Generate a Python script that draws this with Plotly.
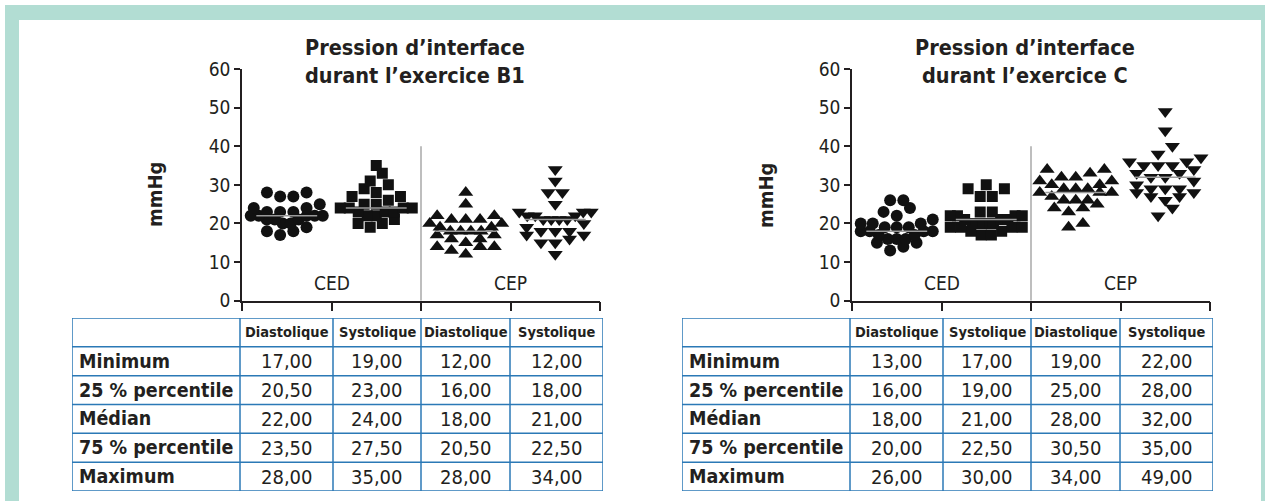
import plotly.graph_objects as go

W, H = 1265, 501

# ---------------- data ----------------
categories = ["Diastolique", "Systolique", "Diastolique", "Systolique"]
sites = ["CED", "CEP"]
y_tick_values = [0, 10, 20, 30, 40, 50, 60]
row_labels = ["Minimum", "25 % percentile", "Médian", "75 % percentile", "Maximum"]
titles = ["Pression d’interface<br>durant l’exercice B1",
          "Pression d’interface<br>durant l’exercice C"]
y_title = "mmHg"

# exercice B1 (individual values, mmHg)
b1_ced_dia = [17, 18, 18, 19, 20, 20, 21, 21, 21, 22, 22, 22, 22, 22, 23, 23, 23, 24, 24, 25, 27, 27, 28, 28]
b1_ced_sys = [19, 20, 20, 21, 22, 22, 23, 23, 23, 24, 24, 24, 24, 25, 25, 26, 27, 27, 28, 29, 30, 31, 33, 35]
b1_cep_dia = [12, 13, 14, 14, 14, 15, 16, 16, 17, 17, 18, 18, 18, 18, 19, 19, 20, 20, 21, 21, 21, 22, 22, 25, 28]
b1_cep_sys = [12, 15, 15, 16, 17, 17, 18, 18, 18, 19, 20, 21, 21, 21, 21, 22, 22, 22, 23, 23, 23, 25, 28, 28, 31, 34]

# exercice C (individual values, mmHg)
c_ced_dia = [13, 14, 15, 15, 16, 16, 16, 17, 17, 18, 18, 18, 18, 19, 19, 19, 20, 20, 20, 21, 22, 23, 24, 26, 26]
c_ced_sys = [17, 17, 18, 18, 19, 19, 19, 19, 20, 20, 20, 20, 21, 21, 21, 22, 22, 22, 22, 23, 23, 27, 27, 29, 29, 30]
c_cep_dia = [19, 20, 23, 24, 24, 25, 26, 26, 26, 27, 28, 28, 28, 29, 29, 29, 30, 30, 31, 31, 32, 32, 33, 34, 34]
c_cep_sys = [22, 24, 26, 27, 27, 28, 28, 29, 29, 29, 30, 31, 32, 32, 33, 33, 34, 35, 35, 35, 36, 36, 37, 38, 40, 44, 49]

# summary tables
b1_min = [17, 19, 12, 12]
b1_q1 = [20.5, 23, 16, 18]
b1_med = [22, 24, 18, 21]
b1_q3 = [23.5, 27.5, 20.5, 22.5]
b1_max = [28, 35, 28, 34]

c_min = [13, 17, 19, 22]
c_q1 = [16, 19, 25, 28]
c_med = [18, 21, 28, 32]
c_q3 = [20, 22.5, 30.5, 35]
c_max = [26, 30, 34, 49]

# ---------------- styles ----------------
TXT = "#231f20"
BLUE = "#2b79b6"
TEAL = "#b2ddd3"
GREY = "#9a9a9a"
COND = "DejaVu Sans Condensed, Liberation Sans Narrow, sans-serif"
SYMBOLS = ["circle", "square", "triangle-up", "triangle-down"]
SIZES = [12, 11, 13, 13]

PPU_X = 358.0 / 4.0    # px per category


def swarm_offsets(values, size, bin_h=2.5, max_width=72.0):
    """GraphPad-like scatter: values binned in rows, each row spread symmetrically,
    lowest values of a row near the centre."""
    order = sorted(range(len(values)), key=lambda i: values[i])
    bins = []
    for i in order:
        if bins and values[i] - values[bins[-1][0]] < bin_h:
            bins[-1].append(i)
        else:
            bins.append([i])
    offsets = [0.0] * len(values)
    for b in bins:
        m = len(b)
        sp = size * 1.1 if m < 2 else min(size * 1.1, max_width / (m - 1))
        slots = [(j - (m - 1) / 2.0) * sp for j in range(m)]
        slots.sort(key=lambda s: (abs(s), s))
        for idx, s in zip(b, slots):
            offsets[idx] = s / PPU_X
    return offsets


fig = go.Figure()

charts = [
    dict(series=[b1_ced_dia, b1_ced_sys, b1_cep_dia, b1_cep_sys],
         stats=[b1_min, b1_q1, b1_med, b1_q3, b1_max], xa="x", ya="y", xt="x3", yt="y3"),
    dict(series=[c_ced_dia, c_ced_sys, c_cep_dia, c_cep_sys],
         stats=[c_min, c_q1, c_med, c_q3, c_max], xa="x2", ya="y2", xt="x4", yt="y4"),
]

for ch in charts:
    for gi, vals in enumerate(ch["series"]):
        offs = swarm_offsets(vals, SIZES[gi])
        fig.add_trace(go.Scatter(
            x=[gi + o for o in offs], y=vals, mode="markers",
            marker=dict(symbol=SYMBOLS[gi], size=SIZES[gi], color="#111111", line=dict(width=0)),
            xaxis=ch["xa"], yaxis=ch["ya"], showlegend=False, hoverinfo="y"))
    # median lines
    mx, my = [], []
    for gi, m in enumerate(ch["stats"][2]):
        mx += [gi - 0.34, gi + 0.34, None]
        my += [m, m, None]
    fig.add_trace(go.Scatter(x=mx, y=my, mode="lines", line=dict(color=GREY, width=1.5),
                             xaxis=ch["xa"], yaxis=ch["ya"], showlegend=False, hoverinfo="skip"))

shapes = []
annotations = []

# chart geometry (paper)
y_dom = [(H - 300.7) / H, (H - 69) / H]
x_doms = [[242 / W, 600 / W], [852 / W, 1210 / W]]
title_x = [415, 1025]
ytitle_x = [155, 766]
table_doms = [[72 / W, 603 / W], [682 / W, 1213 / W]]
tbl_y = [(H - 491) / H, (H - 318) / H]
col_edges = [0, 168, 261, 349, 438, 531]

layout_axes = {}
for k, ch in enumerate(charts):
    xa_name = "xaxis" if k == 0 else "xaxis2"
    ya_name = "yaxis" if k == 0 else "yaxis2"
    layout_axes[xa_name] = dict(
        domain=x_doms[k], range=[-0.5, 3.5], tickvals=[-0.5, 0.5, 1.5, 2.5, 3.5],
        ticktext=[""] * 5, ticks="outside", ticklen=9, tickwidth=1.5, tickcolor=TXT,
        showline=True, linecolor=TXT, linewidth=1.5, showgrid=False, zeroline=False,
        anchor=ch["ya"], fixedrange=True, automargin=False)
    layout_axes[ya_name] = dict(
        domain=y_dom, range=[0, 60], tickvals=y_tick_values, ticks="outside", ticklen=6,
        tickwidth=1.5, tickcolor=TXT, showline=True, linecolor=TXT, linewidth=1.5,
        showgrid=False, zeroline=False, anchor=ch["xa"], automargin=False,
        tickfont=dict(family=COND, size=19, color=TXT), fixedrange=True)
    # table axes
    xt_name = "xaxis3" if k == 0 else "xaxis4"
    yt_name = "yaxis3" if k == 0 else "yaxis4"
    layout_axes[xt_name] = dict(domain=table_doms[k], range=[0, 531], visible=False,
                                anchor=ch["yt"], fixedrange=True, automargin=False)
    layout_axes[yt_name] = dict(domain=tbl_y, range=[6, 0], visible=False,
                                anchor=ch["xt"], fixedrange=True, automargin=False)

    # separator between CED and CEP
    shapes.append(dict(type="line", xref=ch["xa"], yref=ch["ya"], x0=1.5, x1=1.5, y0=0, y1=40,
                       line=dict(color="#a8a8a8", width=1.5)))
    # site labels
    for si, s in enumerate(sites):
        annotations.append(dict(text=s, xref=ch["xa"], yref=ch["ya"], x=0.5 + 2 * si, y=4.6,
                                showarrow=False, font=dict(family=COND, size=19, color=TXT)))
    # title
    annotations.append(dict(text="<b>" + titles[k] + "</b>", xref="paper", yref="paper",
                            x=title_x[k] / W, y=1 - 61 / H, xanchor="center", yanchor="middle",
                            showarrow=False, align="center",
                            font=dict(family=COND, size=21.5, color=TXT)))
    annotations.append(dict(text="<b>" + y_title + "</b>", xref="paper", yref="paper",
                            x=ytitle_x[k] / W, y=1 - 195 / H, textangle=-90,
                            xanchor="center", yanchor="middle", showarrow=False,
                            font=dict(family=COND, size=20, color=TXT)))

    # table grid
    for r in range(7):
        shapes.append(dict(type="line", xref=ch["xt"], yref=ch["yt"], x0=0, x1=531, y0=r, y1=r,
                           line=dict(color=BLUE, width=1.5)))
    for c in col_edges:
        shapes.append(dict(type="line", xref=ch["xt"], yref=ch["yt"], x0=c, x1=c, y0=0, y1=6,
                           line=dict(color=BLUE, width=1.5)))
    # header
    for ci, cat in enumerate(categories):
        annotations.append(dict(text="<b>" + cat + "</b>", xref=ch["xt"], yref=ch["yt"],
                                x=(col_edges[ci + 1] + col_edges[ci + 2]) / 2, y=0.5,
                                showarrow=False, font=dict(family=COND, size=14.5, color=TXT)))
    # rows
    for ri, lab in enumerate(row_labels):
        annotations.append(dict(text="<b>" + lab + "</b>", xref=ch["xt"], yref=ch["yt"],
                                x=5, y=ri + 1.5, xanchor="left", showarrow=False,
                                font=dict(family=COND, size=19.5, color=TXT)))
        for ci, v in enumerate(ch["stats"][ri]):
            annotations.append(dict(text=f"{v:.2f}".replace(".", ","), xref=ch["xt"], yref=ch["yt"],
                                    x=(col_edges[ci + 1] + col_edges[ci + 2]) / 2, y=ri + 1.5,
                                    showarrow=False, font=dict(family=COND, size=20, color=TXT)))

# teal frame
shapes += [
    dict(type="rect", xref="paper", yref="paper", x0=5 / W, x1=1, y0=1 - 20 / H, y1=1 - 5 / H,
         fillcolor=TEAL, line=dict(width=0), layer="below"),
    dict(type="rect", xref="paper", yref="paper", x0=5 / W, x1=19 / W, y0=0, y1=1 - 5 / H,
         fillcolor=TEAL, line=dict(width=0), layer="below"),
    dict(type="rect", xref="paper", yref="paper", x0=1261 / W, x1=1, y0=0, y1=1 - 5 / H,
         fillcolor=TEAL, line=dict(width=0), layer="below"),
]

fig.update_layout(
    width=W, height=H, margin=dict(l=0, r=0, t=0, b=0, pad=0, autoexpand=False),
    paper_bgcolor="white", plot_bgcolor="rgba(0,0,0,0)",
    shapes=shapes, annotations=annotations, showlegend=False,
    font=dict(family=COND, color=TXT),
    **layout_axes)

fig.write_html("out.html", config={"displayModeBar": False},
               post_script="document.body.style.margin='0';document.body.style.overflow='hidden';")
